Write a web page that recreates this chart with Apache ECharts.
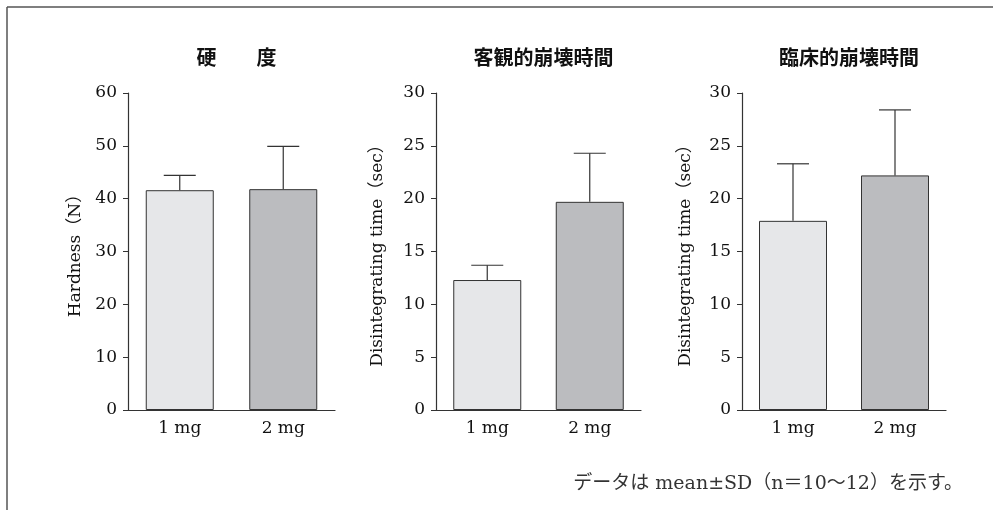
<!DOCTYPE html>
<html>
<head>
<meta charset="utf-8">
<script src="https://cdn.jsdelivr.net/npm/echarts@6/dist/echarts.min.js"></script>
<style>
	html, body { margin: 0; padding: 0; background: #fff; }
	#main { width: 993px; height: 510px; }
</style>
</head>
<body>
<div id="main"></div>
<script>
var categories = ['1 mg', '2 mg'];
var barColors = ['#e6e7e9', '#bbbcbf'];

var panelTitles = ['硬　　度', '客観的崩壊時間', '臨床的崩壊時間'];
var axisNames = ['Hardness（N）', 'Disintegrating time（sec）', 'Disintegrating time（sec）'];

// mean and SD
var hardnessMean = [41.6, 41.8];
var hardnessSD = [2.8, 8.1];
var objectiveMean = [12.3, 19.7];
var objectiveSD = [1.4, 4.6];
var clinicalMean = [17.9, 22.2];
var clinicalSD = [5.4, 6.2];

var yMax = [60, 30, 30];
var yStep = [10, 5, 5];

var gridLeft = [128, 436, 742];
var gridWidth = [207, 205, 204];
var nameGaps = [44, 50, 48];

var serif = "'DejaVu Serif', 'Noto Sans CJK JP', serif";

function barData(means) {
	var out = [];
	for (var i = 0; i < means.length; i++) {
		out.push({
			value : means[i],
			itemStyle : { color : barColors[i] }
		});
	}
	return out;
}

function errData(means, sds) {
	var out = [];
	for (var i = 0; i < means.length; i++) {
		out.push([i, means[i], means[i] + sds[i]]);
	}
	return out;
}

function renderErr(params, api) {
	var base = api.coord([api.value(0), api.value(1)]);
	var top = api.coord([api.value(0), api.value(2)]);
	var half = 16;
	var style = { stroke : '#333', lineWidth : 1.2 };
	return {
		type : 'group',
		children : [ {
			type : 'line',
			shape : { x1 : base[0], y1 : base[1], x2 : top[0], y2 : top[1] },
			style : style
		}, {
			type : 'line',
			shape : { x1 : top[0] - half, y1 : top[1], x2 : top[0] + half, y2 : top[1] },
			style : style
		} ]
	};
}

function drawChart(divId) {
	var chart = echarts.init(document.getElementById(divId), null, { renderer : 'canvas' });
	var means = [hardnessMean, objectiveMean, clinicalMean];
	var sds = [hardnessSD, objectiveSD, clinicalSD];

	var grids = [], xAxes = [], yAxes = [], series = [], titles = [];

	for (var p = 0; p < 3; p++) {
		grids.push({
			left : gridLeft[p],
			width : gridWidth[p],
			top : 93,
			height : 317
		});
		titles.push({
			text : panelTitles[p],
			left : gridLeft[p] + gridWidth[p] / 2,
			top : 42,
			textAlign : 'center',
			textStyle : {
				fontFamily : "'Noto Sans CJK JP'",
				fontWeight : 'bold',
				fontSize : 20,
				color : '#111'
			}
		});
		xAxes.push({
			type : 'category',
			gridIndex : p,
			data : categories,
			axisLine : { lineStyle : { color : '#333', width : 1.2 } },
			axisTick : { show : false },
			axisLabel : {
				color : '#111',
				fontFamily : serif,
				fontSize : 17,
				margin : 10
			}
		});
		yAxes.push({
			type : 'value',
			gridIndex : p,
			min : 0,
			max : yMax[p],
			interval : yStep[p],
			name : axisNames[p],
			nameLocation : 'middle',
			nameGap : nameGaps[p],
			nameTextStyle : {
				color : '#111',
				fontFamily : serif,
				fontSize : 17
			},
			axisLine : { show : true, lineStyle : { color : '#333', width : 1.2 } },
			axisTick : { show : true, length : 5, lineStyle : { color : '#333' } },
			splitLine : { show : false },
			axisLabel : {
				color : '#111',
				fontFamily : serif,
				fontSize : 17,
				margin : 11
			}
		});
		series.push({
			type : 'bar',
			xAxisIndex : p,
			yAxisIndex : p,
			barWidth : 68,
			data : barData(means[p]),
			itemStyle : { borderColor : '#333', borderWidth : 1 },
			silent : true
		});
		series.push({
			type : 'custom',
			xAxisIndex : p,
			yAxisIndex : p,
			renderItem : renderErr,
			encode : { x : 0, y : [1, 2] },
			data : errData(means[p], sds[p]),
			z : 1,
			silent : true
		});
	}

	titles.push({
		text : 'データは mean±SD（n＝10〜12）を示す。',
		right : 25,
		top : 470,
		textStyle : {
			fontFamily : serif,
			fontWeight : 'normal',
			fontSize : 19,
			color : '#333'
		}
	});

	chart.setOption({
		animation : false,
		title : titles,
		grid : grids,
		xAxis : xAxes,
		yAxis : yAxes,
		series : series,
		graphic : [ {
			type : 'line',
			shape : { x1 : 7, y1 : 7, x2 : 993, y2 : 7 },
			style : { stroke : '#555', lineWidth : 1.5 }
		}, {
			type : 'line',
			shape : { x1 : 7, y1 : 7, x2 : 7, y2 : 510 },
			style : { stroke : '#555', lineWidth : 1.5 }
		} ]
	});

	return chart;
}

drawChart('main');
</script>
</body>
</html>
